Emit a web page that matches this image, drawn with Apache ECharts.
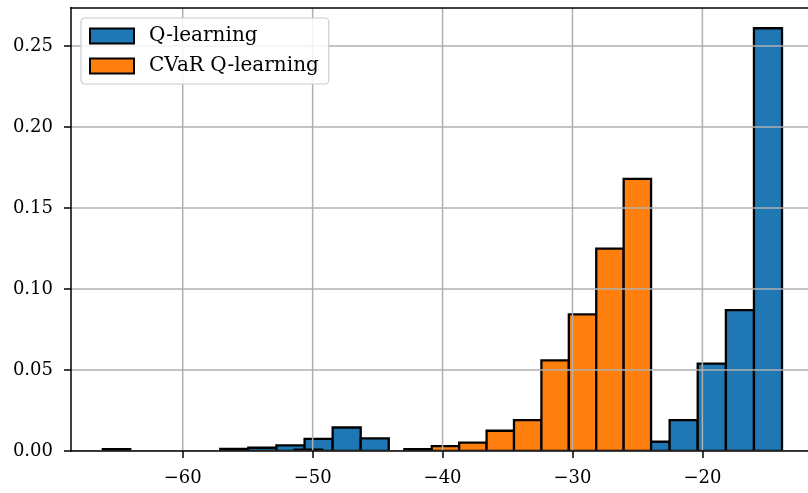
<!DOCTYPE html>
<html>
<head>
<meta charset="utf-8">
<script src="https://cdn.jsdelivr.net/npm/echarts@6/dist/echarts.min.js"></script>
<style>
  html, body { margin: 0; padding: 0; background: #fff; }
  #chart { width: 808px; height: 493px; }
</style>
</head>
<body>
<div id="chart"></div>
<script>
// ---- data ----
const seriesNames = ['Q-learning', 'CVaR Q-learning'];

const qBinEdges = [-57.11, -54.95, -52.79, -50.62, -48.46, -46.30, -44.14, -41.98, -39.81, -37.65,
                   -35.49, -33.33, -31.17, -29.00, -26.84, -24.68, -22.52, -20.36, -18.19, -16.03, -13.87];
const qDensity  = [0.0013, 0.002, 0.0035, 0.0075, 0.0145, 0.0078, 0, 0, 0, 0,
                   0, 0, 0, 0, 0, 0.0057, 0.019, 0.054, 0.087, 0.261];

const cvarBinEdges = [-66.15, -64.04, -61.93, -59.82, -57.71, -55.60, -53.49, -51.38, -49.27, -47.16,
                      -45.05, -42.94, -40.83, -38.72, -36.61, -34.50, -32.39, -30.28, -28.17, -26.06, -23.95];
const cvarDensity  = [0.0012, 0, 0, 0, 0, 0, 0, 0.0008, 0, 0,
                      0, 0.0012, 0.003, 0.0052, 0.0125, 0.019, 0.056, 0.0843, 0.125, 0.168];

const xTicks = [-60, -50, -40, -30, -20];
const yTicks = [0, 0.05, 0.10, 0.15, 0.20, 0.25];

// ---- build ----
const X_MIN = -68.6, X_MAX = -11.87, Y_MIN = 0, Y_MAX = 0.2738;
const FONT = 'DejaVu Serif';

function binsToData(edges, dens) {
  const out = [];
  for (let i = 0; i < dens.length; i++) {
    if (dens[i] > 0) out.push([edges[i], edges[i + 1], dens[i]]);
  }
  return out;
}

function histRender(params, api) {
  const p0 = api.coord([api.value(0), api.value(2)]);
  const p1 = api.coord([api.value(1), 0]);
  return {
    type: 'rect',
    shape: { x: p0[0], y: p0[1], width: p1[0] - p0[0], height: p1[1] - p0[1] },
    style: api.style({ stroke: '#000', lineWidth: 2.3 })
  };
}

const gridLineData = [];
xTicks.forEach(v => gridLineData.push(['x', v]));
yTicks.forEach(v => gridLineData.push(['y', v]));

function gridRender(params, api) {
  const kind = gridLineData[params.dataIndex][0];
  const v = gridLineData[params.dataIndex][1];
  let a, b;
  if (kind === 'x') { a = api.coord([v, Y_MIN]); b = api.coord([v, Y_MAX]); }
  else { a = api.coord([X_MIN, v]); b = api.coord([X_MAX, v]); }
  return {
    type: 'line',
    shape: { x1: a[0], y1: a[1], x2: b[0], y2: b[1] },
    style: { stroke: '#b0b0b0', lineWidth: 1.5 },
    silent: true
  };
}

const minusFmt = v => String(v).replace('-', '\u2212');

const chart = echarts.init(document.getElementById('chart'), null, { renderer: 'canvas' });
chart.setOption({
  animation: false,
  backgroundColor: '#ffffff',
  grid: { left: 71, right: 0, top: 7.5, bottom: 42 },
  legend: {
    left: 81, top: 18,
    orient: 'vertical',
    icon: 'rect',
    itemWidth: 44, itemHeight: 15, itemGap: 10,
    padding: [8, 10, 8, 8],
    backgroundColor: 'rgba(255,255,255,0.85)',
    borderColor: '#cccccc', borderWidth: 1.2, borderRadius: 4,
    textStyle: { fontFamily: FONT, fontSize: 20, color: '#000', lineHeight: 20, padding: [0, 0, 0, 10] },
    data: [
      { name: seriesNames[0], itemStyle: { color: '#1f77b4', borderColor: '#000', borderWidth: 2 } },
      { name: seriesNames[1], itemStyle: { color: '#ff7f0e', borderColor: '#000', borderWidth: 2 } }
    ],
    z: 20
  },
  xAxis: [{
    type: 'value', min: X_MIN, max: X_MAX, z: 10,
    axisLine: { show: true, onZero: false, lineStyle: { color: '#000', width: 1.5 } },
    axisTick: { show: true, length: 7, lineStyle: { color: '#000', width: 1.5 }, customValues: xTicks },
    axisLabel: { show: true, customValues: xTicks, formatter: minusFmt, margin: 18,
                 fontFamily: FONT, fontSize: 18, color: '#000' },
    splitLine: { show: false }
  }, {
    type: 'value', position: 'top', min: X_MIN, max: X_MAX, z: 10,
    axisLine: { show: true, onZero: false, lineStyle: { color: '#000', width: 1.5 } },
    axisTick: { show: false }, axisLabel: { show: false }, splitLine: { show: false }
  }],
  yAxis: {
    type: 'value', min: Y_MIN, max: Y_MAX, z: 10,
    axisLine: { show: true, onZero: false, lineStyle: { color: '#000', width: 1.5 } },
    axisTick: { show: true, length: 7, lineStyle: { color: '#000', width: 1.5 }, customValues: yTicks },
    axisLabel: { show: true, customValues: yTicks, formatter: v => v.toFixed(2), margin: 18,
                 fontFamily: FONT, fontSize: 18, color: '#000' },
    splitLine: { show: false }
  },
  series: [
    {
      name: seriesNames[0], type: 'custom', renderItem: histRender, clip: true, z: 2,
      itemStyle: { color: '#1f77b4', borderColor: '#000', borderWidth: 2 },
      encode: { x: [0, 1], y: 2 },
      data: binsToData(qBinEdges, qDensity)
    },
    {
      name: seriesNames[1], type: 'custom', renderItem: histRender, clip: true, z: 3,
      itemStyle: { color: '#ff7f0e', borderColor: '#000', borderWidth: 2 },
      encode: { x: [0, 1], y: 2 },
      data: binsToData(cvarBinEdges, cvarDensity)
    },
    {
      name: 'grid', type: 'custom', renderItem: gridRender, clip: true, z: 4, silent: true,
      data: gridLineData.map((d, i) => [i])
    }
  ]
});
</script>
</body>
</html>
